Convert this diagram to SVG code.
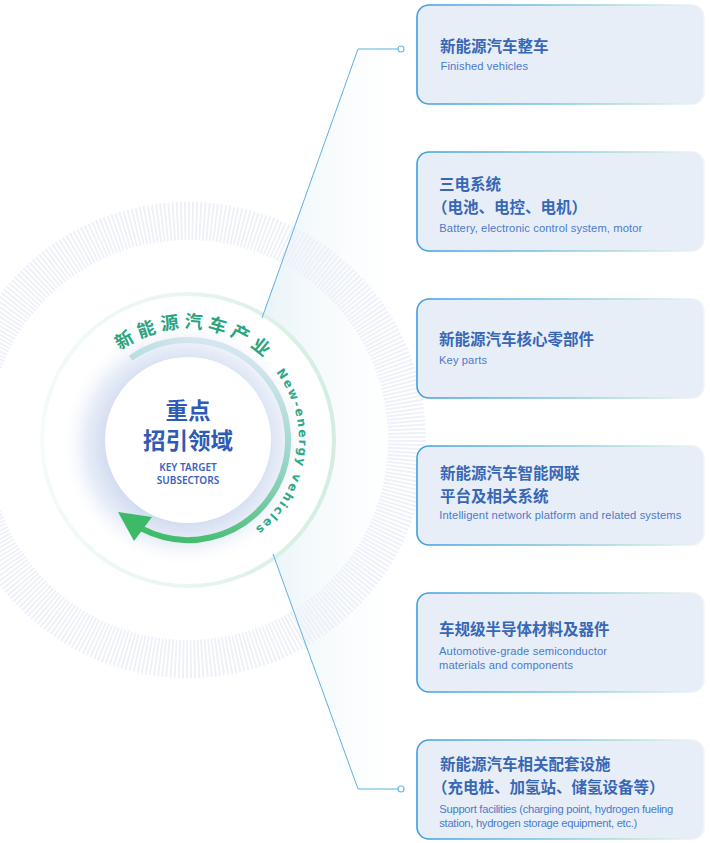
<svg xmlns="http://www.w3.org/2000/svg" xmlns:xlink="http://www.w3.org/1999/xlink" width="710" height="843" viewBox="0 0 710 843">
<defs>
<style>
.card{fill:#e8eef7;stroke:url(#cardStroke);stroke-width:1.6}
.t{font-family:"Noto Sans CJK SC","Noto Sans",sans-serif;font-size:15.5px;font-weight:700;fill:#3767b6}
.e{font-family:"Liberation Sans",Arial,sans-serif;font-size:11.2px;fill:#4a7bcb}
.conn{fill:none;stroke:#5cb0e2;stroke-width:1}
.stub{fill:none;stroke:#8fcdea;stroke-width:1.6}
.dot{fill:#ffffff;stroke:#6bbbe6;stroke-width:1.2}
</style>
<linearGradient id="cardStroke" x1="0" y1="0" x2="1" y2="0">
<stop offset="0" stop-color="#3e9ee2"/>
<stop offset="0.45" stop-color="#7cc3de"/>
<stop offset="0.75" stop-color="#b5e2da"/>
<stop offset="1" stop-color="#f2f5fa"/>
</linearGradient>
<linearGradient id="fan" x1="260" y1="0" x2="420" y2="0" gradientUnits="userSpaceOnUse">
<stop offset="0" stop-color="#e8f3f8"/>
<stop offset="1" stop-color="#ffffff" stop-opacity="0"/>
</linearGradient>
<linearGradient id="ringG" x1="40" y1="0" x2="334" y2="0" gradientUnits="userSpaceOnUse">
<stop offset="0" stop-color="#f5fafb"/>
<stop offset="0.5" stop-color="#e8f5f2"/>
<stop offset="1" stop-color="#d3eee0"/>
</linearGradient>
<linearGradient id="arcG" x1="210" y1="340" x2="140" y2="535" gradientUnits="userSpaceOnUse">
<stop offset="0" stop-color="#d6e6f0"/>
<stop offset="0.45" stop-color="#96d4c7"/>
<stop offset="1" stop-color="#3dba66"/>
</linearGradient>
<radialGradient id="glow" cx="184" cy="444" r="124" gradientUnits="userSpaceOnUse">
<stop offset="0.62" stop-color="#d2dcf0"/>
<stop offset="0.8" stop-color="#e9eef8"/>
<stop offset="1" stop-color="#ffffff" stop-opacity="0"/>
</radialGradient>
<path id="cnArc" d="M75.28 432.12 A113 113 0 0 1 300.72 447.88"/>
<path id="enArc" d="M203.45 330.08 A111 111 0 0 1 172.55 549.92"/>
</defs>
<rect width="710" height="843" fill="#ffffff"/>

<g id="background">
<polygon points="358,49 262,318 273,554 358,789 420,789 420,49" fill="url(#fan)"/>
<circle cx="188" cy="440" r="219" fill="none" stroke="#eef0fa" stroke-width="38" pathLength="360" stroke-dasharray="0.5 0.5"/>
<circle cx="188" cy="440" r="146" fill="#ffffff" stroke="url(#ringG)" stroke-width="4"/>
</g>

<g id="connectors">
<polyline class="conn" points="262,318 358,49"/>
<polyline class="stub" points="358,49 398,49"/>
<circle class="dot" cx="401" cy="49" r="3"/>
<polyline class="conn" points="273,554 358,789"/>
<polyline class="stub" points="358,789 398,789"/>
<circle class="dot" cx="401" cy="789" r="3"/>
</g>

<g id="hub">
<circle cx="188" cy="440" r="124" fill="url(#glow)"/>
<circle cx="188" cy="440" r="83" fill="#ffffff"/>
<path d="M130.6 358.1 A100 100 0 1 1 141.8 528.7" fill="none" stroke="url(#arcG)" stroke-width="6"/>
<polygon points="118,512 152,517 134,541" fill="#3dba66"/>
<text font-family="'Noto Sans CJK SC',sans-serif" font-size="18" font-weight="700" fill="#2aa37f" letter-spacing="5"><textPath xlink:href="#cnArc" href="#cnArc" startOffset="50%" text-anchor="middle">新能源汽车产业</textPath></text>
<text font-family="'DejaVu Sans',sans-serif" font-size="12" font-weight="700" fill="#2fa88a" letter-spacing="1.9"><textPath xlink:href="#enArc" href="#enArc" startOffset="50%" text-anchor="middle">New-energy vehicles</textPath></text>
<text x="188" y="419" text-anchor="middle" font-family="'Noto Sans CJK SC',sans-serif" font-size="22.5" font-weight="700" fill="#2e5bb7">重点</text>
<text x="188" y="449" text-anchor="middle" font-family="'Noto Sans CJK SC',sans-serif" font-size="22.5" font-weight="700" fill="#2e5bb7">招引领域</text>
<text x="188" y="471" text-anchor="middle" font-family="'Noto Sans',sans-serif" font-size="10" font-weight="600" fill="#3a62c0">KEY TARGET</text>
<text x="188" y="483.5" text-anchor="middle" font-family="'Noto Sans',sans-serif" font-size="10" font-weight="600" fill="#3a62c0">SUBSECTORS</text>
</g>

<g id="card1">
<rect class="card" x="417" y="5" width="287" height="99" rx="12"/>
<text class="t" x="440" y="52">新能源汽车整车</text>
<text class="e" x="440.5" y="70" textLength="87.5">Finished vehicles</text>
</g>
<g id="card2">
<rect class="card" x="417" y="152" width="287" height="99" rx="12"/>
<text class="t" x="439" y="190">三电系统</text>
<text class="t" x="432" y="213">（电池、电控、电机）</text>
<text class="e" x="439.3" y="232" textLength="203">Battery, electronic control system, motor</text>
</g>
<g id="card3">
<rect class="card" x="417" y="299" width="287" height="99" rx="12"/>
<text class="t" x="439" y="345">新能源汽车核心零部件</text>
<text class="e" x="439" y="364" textLength="48">Key parts</text>
</g>
<g id="card4">
<rect class="card" x="417" y="446" width="287" height="99" rx="12"/>
<text class="t" x="440" y="479">新能源汽车智能网联</text>
<text class="t" x="440" y="502">平台及相关系统</text>
<text class="e" x="439.3" y="519" textLength="242">Intelligent network platform and related systems</text>
</g>
<g id="card5">
<rect class="card" x="417" y="593" width="287" height="99" rx="12"/>
<text class="t" x="439" y="635">车规级半导体材料及器件</text>
<text class="e" x="439" y="655" textLength="168">Automotive-grade semiconductor</text>
<text class="e" x="439" y="669" textLength="134">materials and components</text>
</g>
<g id="card6">
<rect class="card" x="417" y="740" width="287" height="99" rx="12"/>
<text class="t" x="440" y="770">新能源汽车相关配套设施</text>
<text class="t" x="432" y="793">（充电桩、加氢站、储氢设备等）</text>
<text class="e" x="439.3" y="813" textLength="234">Support facilities (charging point, hydrogen fueling</text>
<text class="e" x="439.3" y="827" textLength="198">station, hydrogen storage equipment, etc.)</text>
</g>
</svg>
